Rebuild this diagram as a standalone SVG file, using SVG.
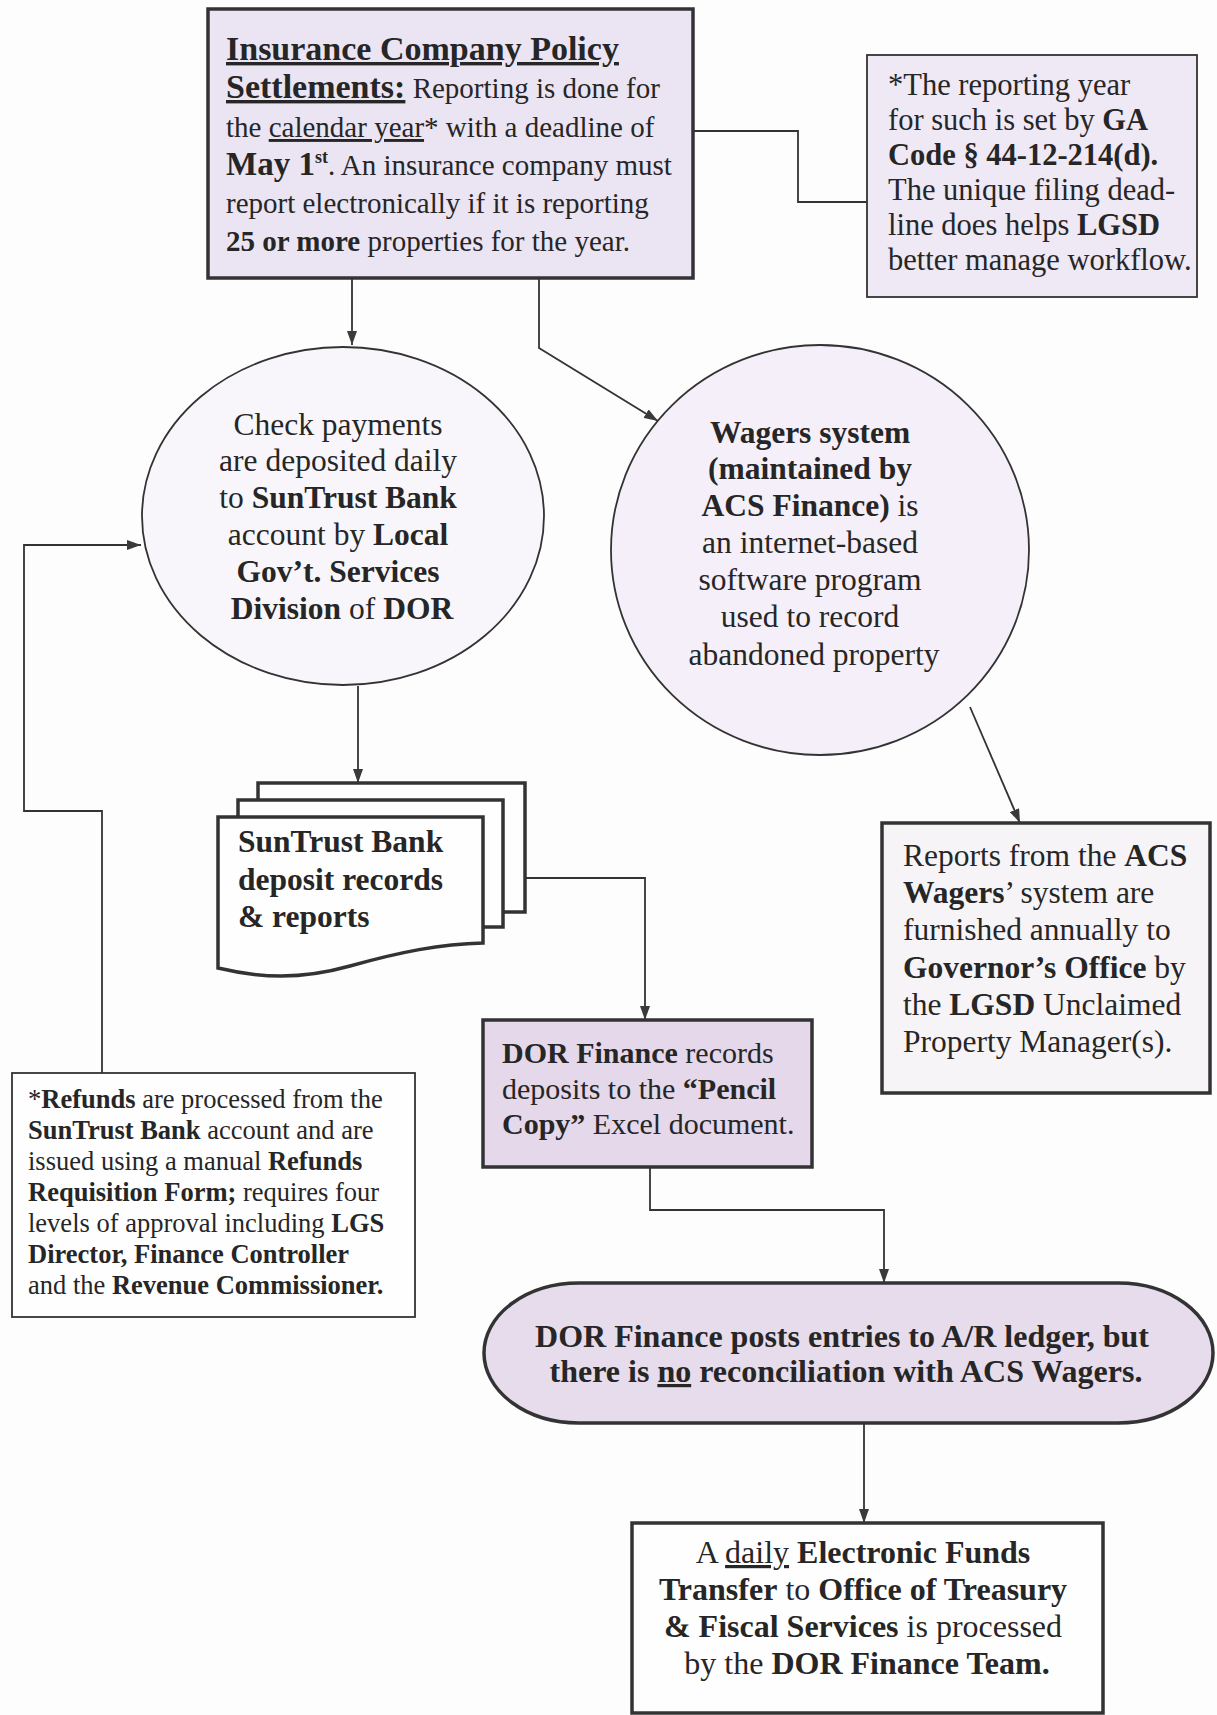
<svg xmlns="http://www.w3.org/2000/svg" width="1217" height="1715" viewBox="0 0 1217 1715">
<defs>
<marker id="ah" viewBox="0 0 14 10" refX="14" refY="5" markerWidth="14" markerHeight="10" markerUnits="userSpaceOnUse" orient="auto">
<path d="M0,0 L14,5 L0,10 z" fill="#3a3a3a"/>
</marker>
</defs>
<style>
text{font-family:"Liberation Serif","Times New Roman",serif;fill:#262626}
.b{font-weight:bold}
.u{text-decoration:underline}
.box{stroke:#333;stroke-width:3.5}
.thin{stroke:#333;stroke-width:1.8}
.con{fill:none;stroke:#333;stroke-width:1.8}
</style>
<rect width="1217" height="1715" fill="#fdfdfd"/>

<g id="connectors">
<path class="con" d="M693,131 H798 V202 H867"/>
<path class="con" d="M352,278 V345" marker-end="url(#ah)"/>
<path class="con" d="M539,278 V348 L658,421" marker-end="url(#ah)"/>
<path class="con" d="M358,686 V783" marker-end="url(#ah)"/>
<path class="con" d="M970,707 L1020,823" marker-end="url(#ah)"/>
<path class="con" d="M526,878 H645 V1020" marker-end="url(#ah)"/>
<path class="con" d="M102,1073 V811 H24 V545 H141" marker-end="url(#ah)"/>
<path class="con" d="M650,1167 V1210 H884 V1283" marker-end="url(#ah)"/>
<path class="con" d="M864,1423 V1523" marker-end="url(#ah)"/>
</g>

<g id="insurance">
<rect class="box" x="208" y="9" width="485" height="269" fill="#ebe4f3"/>
<text font-size="29" x="226">
<tspan x="226" y="60" class="b u" font-size="34">Insurance Company Policy</tspan>
<tspan x="226" y="98"><tspan class="b u" font-size="34">Settlements:</tspan> Reporting is done for</tspan>
<tspan x="226" y="137">the <tspan class="u">calendar year</tspan>* with a deadline of</tspan>
<tspan x="226" y="175"><tspan class="b" font-size="33">May 1</tspan><tspan class="b" font-size="18" dy="-12">st</tspan><tspan dy="12">. An insurance company must</tspan></tspan>
<tspan x="226" y="213">report electronically if it is reporting</tspan>
<tspan x="226" y="251"><tspan class="b">25 or more</tspan> properties for the year.</tspan>
</text>
</g>

<g id="reporting-year">
<rect class="thin" x="867" y="55" width="330" height="242" fill="#efe8f5"/>
<text font-size="30.5">
<tspan x="888" y="95">*The reporting year</tspan>
<tspan x="888" y="130">for such is set by <tspan class="b">GA</tspan></tspan>
<tspan x="888" y="165" class="b">Code § 44-12-214(d).</tspan>
<tspan x="888" y="200">The unique filing dead-</tspan>
<tspan x="888" y="235">line does helps <tspan class="b">LGSD</tspan></tspan>
<tspan x="888" y="270">better manage workflow.</tspan>
</text>
</g>

<g id="check-payments">
<ellipse class="thin" cx="343" cy="516" rx="201" ry="169" fill="#f8f6fa"/>
<text font-size="31.5" text-anchor="middle">
<tspan x="342" y="435">Check payments</tspan>
<tspan x="342" y="471">are deposited daily</tspan>
<tspan x="342" y="508">to <tspan class="b">SunTrust Bank</tspan></tspan>
<tspan x="342" y="545">account by <tspan class="b">Local</tspan></tspan>
<tspan x="342" y="582" class="b">Gov’t. Services</tspan>
<tspan x="342" y="619"><tspan class="b">Division</tspan> of <tspan class="b">DOR</tspan></tspan>
</text>
</g>

<g id="wagers">
<ellipse class="thin" cx="820" cy="550" rx="209" ry="205" fill="#f4eff8"/>
<text font-size="31.5" text-anchor="middle">
<tspan x="814" y="443" class="b">Wagers system</tspan>
<tspan x="814" y="479" class="b">(maintained by</tspan>
<tspan x="814" y="516"><tspan class="b">ACS Finance)</tspan> is</tspan>
<tspan x="814" y="553">an internet-based</tspan>
<tspan x="814" y="590">software program</tspan>
<tspan x="814" y="627">used to record</tspan>
<tspan x="814" y="665">abandoned property</tspan>
</text>
</g>

<g id="suntrust-records">
<rect class="box" x="258" y="783" width="267" height="129" fill="#fefefe"/>
<rect class="box" x="238" y="800" width="265" height="127" fill="#fefefe"/>
<path class="box" d="M218,817 H483 V943 C440,944 400,952 350,966 C300,980 260,978 218,968 Z" fill="#fefefe"/>
<text font-size="31.5" class="b">
<tspan x="238" y="852">SunTrust Bank</tspan>
<tspan x="238" y="890">deposit records</tspan>
<tspan x="238" y="927">&amp; reports</tspan>
</text>
</g>

<g id="acs-reports">
<rect class="box" x="882" y="823" width="328" height="270" fill="#f6f4f7"/>
<text font-size="31.5">
<tspan x="903" y="866">Reports from the <tspan class="b">ACS</tspan></tspan>
<tspan x="903" y="903"><tspan class="b">Wagers</tspan>’ system are</tspan>
<tspan x="903" y="940">furnished annually to</tspan>
<tspan x="903" y="978"><tspan class="b">Governor’s Office</tspan> by</tspan>
<tspan x="903" y="1015">the <tspan class="b">LGSD</tspan> Unclaimed</tspan>
<tspan x="903" y="1052">Property Manager(s).</tspan>
</text>
</g>

<g id="dor-finance-records">
<rect class="box" x="483" y="1020" width="329" height="147" fill="#e4d8ea"/>
<text font-size="30">
<tspan x="502" y="1063"><tspan class="b">DOR Finance</tspan> records</tspan>
<tspan x="502" y="1099">deposits to the <tspan class="b">“Pencil</tspan></tspan>
<tspan x="502" y="1134"><tspan class="b">Copy”</tspan> Excel document.</tspan>
</text>
</g>

<g id="refunds">
<rect class="thin" x="12" y="1073" width="403" height="244" fill="#fefefe"/>
<text font-size="26.5">
<tspan x="28" y="1108">*<tspan class="b">Refunds</tspan> are processed from the</tspan>
<tspan x="28" y="1139"><tspan class="b">SunTrust Bank</tspan> account and are</tspan>
<tspan x="28" y="1170">issued using a manual <tspan class="b">Refunds</tspan></tspan>
<tspan x="28" y="1201"><tspan class="b">Requisition Form;</tspan> requires four</tspan>
<tspan x="28" y="1232">levels of approval including <tspan class="b">LGS</tspan></tspan>
<tspan x="28" y="1263" class="b">Director, Finance Controller</tspan>
<tspan x="28" y="1294">and the <tspan class="b">Revenue Commissioner.</tspan></tspan>
</text>
</g>

<g id="ar-ledger">
<rect class="box" x="484" y="1283" width="729" height="140" rx="95" ry="70" fill="#e6dcec"/>
<text font-size="32" class="b" text-anchor="middle">
<tspan x="846" y="1347">DOR Finance posts entries to A/R ledger, but</tspan>
<tspan x="846" y="1382">there is <tspan class="u">no</tspan> reconciliation with ACS Wagers.</tspan>
</text>
</g>

<g id="eft">
<rect class="box" x="632" y="1523" width="471" height="190" fill="#fefefe"/>
<text font-size="32" text-anchor="middle">
<tspan x="867" y="1563">A <tspan class="u">daily</tspan> <tspan class="b">Electronic Funds</tspan></tspan>
<tspan x="867" y="1600"><tspan class="b">Transfer</tspan> to <tspan class="b">Office of Treasury</tspan></tspan>
<tspan x="867" y="1637"><tspan class="b">&amp; Fiscal Services</tspan> is processed</tspan>
<tspan x="867" y="1674">by the <tspan class="b">DOR Finance Team.</tspan></tspan>
</text>
</g>
</svg>
